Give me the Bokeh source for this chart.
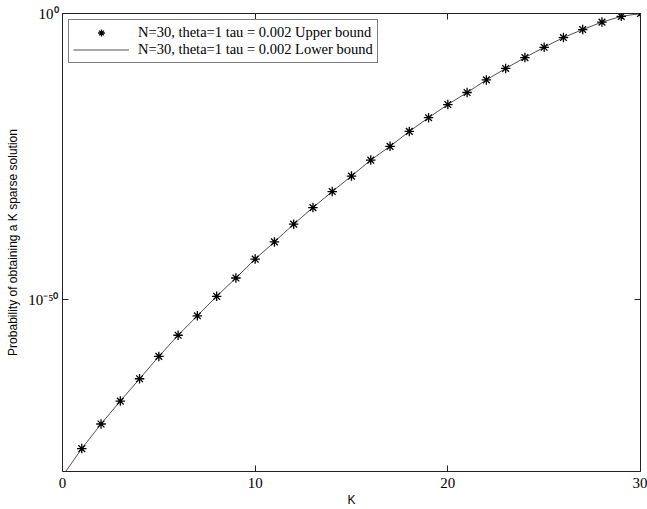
import numpy as np
from bokeh.plotting import figure
from bokeh.models import (Range1d, FixedTicker, CustomJSTickFormatter, LinearAxis, LogAxis,
                          ColumnDataSource, Legend, LegendItem)
from bokeh.embed import file_html
from bokeh.resources import INLINE

# ---- data (log10 of probability) ----
K_lower = list(range(0, 31))
log10_lower = [-80.8, -76.0, -71.7, -67.7, -63.8, -59.9, -56.2, -52.8, -49.4, -46.2,
               -42.9, -39.9, -36.8, -33.9, -31.1, -28.4, -25.6, -23.2, -20.6, -18.2,
               -15.9, -13.8, -11.6, -9.6, -7.7, -5.9, -4.2, -2.8, -1.5, -0.5, 0.0]
K_upper = list(range(1, 31))
log10_upper = [-76.0, -71.7, -67.7, -63.8, -59.9, -56.2, -52.8, -49.4, -46.2,
               -42.9, -39.9, -36.8, -33.9, -31.1, -28.4, -25.6, -23.2, -20.6, -18.2,
               -15.9, -13.8, -11.6, -9.6, -7.7, -5.9, -4.2, -2.8, -1.5, -0.5, 0.0]
x_ticks = [0, 10, 20, 30]
y_tick_values = [1e-50, 1.0]
y_tick_labels = ["10\u207b\u2075\u2070", "10\u2070"]
label_upper = "N=30, theta=1 tau = 0.002 Upper bound"
label_lower = "N=30, theta=1 tau = 0.002 Lower bound"

src_lower = ColumnDataSource(dict(
    k=np.array(K_lower, dtype=np.float64),
    p=np.power(10.0, np.array(log10_lower, dtype=np.float64))))
src_upper = ColumnDataSource(dict(
    k=np.array(K_upper, dtype=np.float64),
    p=np.power(10.0, np.array(log10_upper, dtype=np.float64))))

SERIF = "Liberation Serif"
SANS = "Liberation Sans"

p = figure(width=647, height=509, y_axis_type="log",
           x_range=Range1d(0, 30), y_range=Range1d(1e-80, 1.0),
           output_backend="svg", toolbar_location=None,
           min_border_left=62, min_border_right=7, min_border_top=13, min_border_bottom=38)
p.outline_line_color = None
p.xgrid.visible = False
p.ygrid.visible = False
p.background_fill_color = "white"
p.border_fill_color = "white"

r_line = p.line("k", "p", source=src_lower, line_color="#505050", line_width=1)
r_pts = p.scatter("k", "p", source=src_upper, marker="asterisk", size=9.5,
                  line_color="black", line_width=1.3)

yfmt = CustomJSTickFormatter(args=dict(vals=y_tick_values, labs=y_tick_labels), code="""
let best = 0; let bd = Infinity;
for (let i = 0; i < vals.length; i++) {
  const d = Math.abs(Math.log10(vals[i]) - Math.log10(tick));
  if (d < bd) { bd = d; best = i; }
}
return labs[best];
""")
blank = CustomJSTickFormatter(code="return ' ';")

def style(ax):
    ax.axis_line_color = "#222222"
    ax.axis_line_width = 1
    ax.major_tick_line_color = "#222222"
    ax.major_tick_in = 6
    ax.major_tick_out = 0
    ax.minor_tick_line_color = None
    ax.major_label_text_font = SERIF
    ax.major_label_text_font_size = "15px"
    ax.major_label_text_color = "black"
    ax.axis_label_text_font = SANS
    ax.axis_label_text_font_size = "12px"
    ax.axis_label_text_font_style = "normal"
    ax.axis_label_text_color = "black"

xa = p.xaxis[0]
xa.ticker = FixedTicker(ticks=x_ticks)
xa.axis_label = "K"
style(xa)
xa.major_label_standoff = 6
xa.axis_label_standoff = 2

ya = p.yaxis[0]
ya.ticker = FixedTicker(ticks=y_tick_values)
ya.formatter = yfmt
ya.axis_label = "Probability of obtaining a K sparse solution"
style(ya)
ya.major_label_standoff = 4
ya.axis_label_standoff = 5

top = LinearAxis(ticker=FixedTicker(ticks=x_ticks), formatter=blank)
style(top)
top.major_label_text_font_size = "1px"
top.major_label_text_color = None
top.major_label_standoff = 0
p.add_layout(top, "above")

right = LogAxis(ticker=FixedTicker(ticks=y_tick_values), formatter=blank)
style(right)
right.major_label_text_font_size = "1px"
right.major_label_text_color = None
right.major_label_standoff = 0
p.add_layout(right, "right")

lg = Legend(items=[LegendItem(label=label_upper, renderers=[r_pts]),
                   LegendItem(label=label_lower, renderers=[r_line])],
            location="top_left")
lg.margin = 6
lg.padding = 4
lg.spacing = 0
lg.glyph_width = 56
lg.glyph_height = 17
lg.label_height = 17
lg.label_standoff = 9
lg.label_text_font = SERIF
lg.label_text_font_size = "14.5px"
lg.label_text_color = "black"
lg.border_line_color = "black"
lg.border_line_width = 1
lg.background_fill_alpha = 1
p.add_layout(lg, "center")

open("out.html", "w").write(file_html(p, INLINE))
